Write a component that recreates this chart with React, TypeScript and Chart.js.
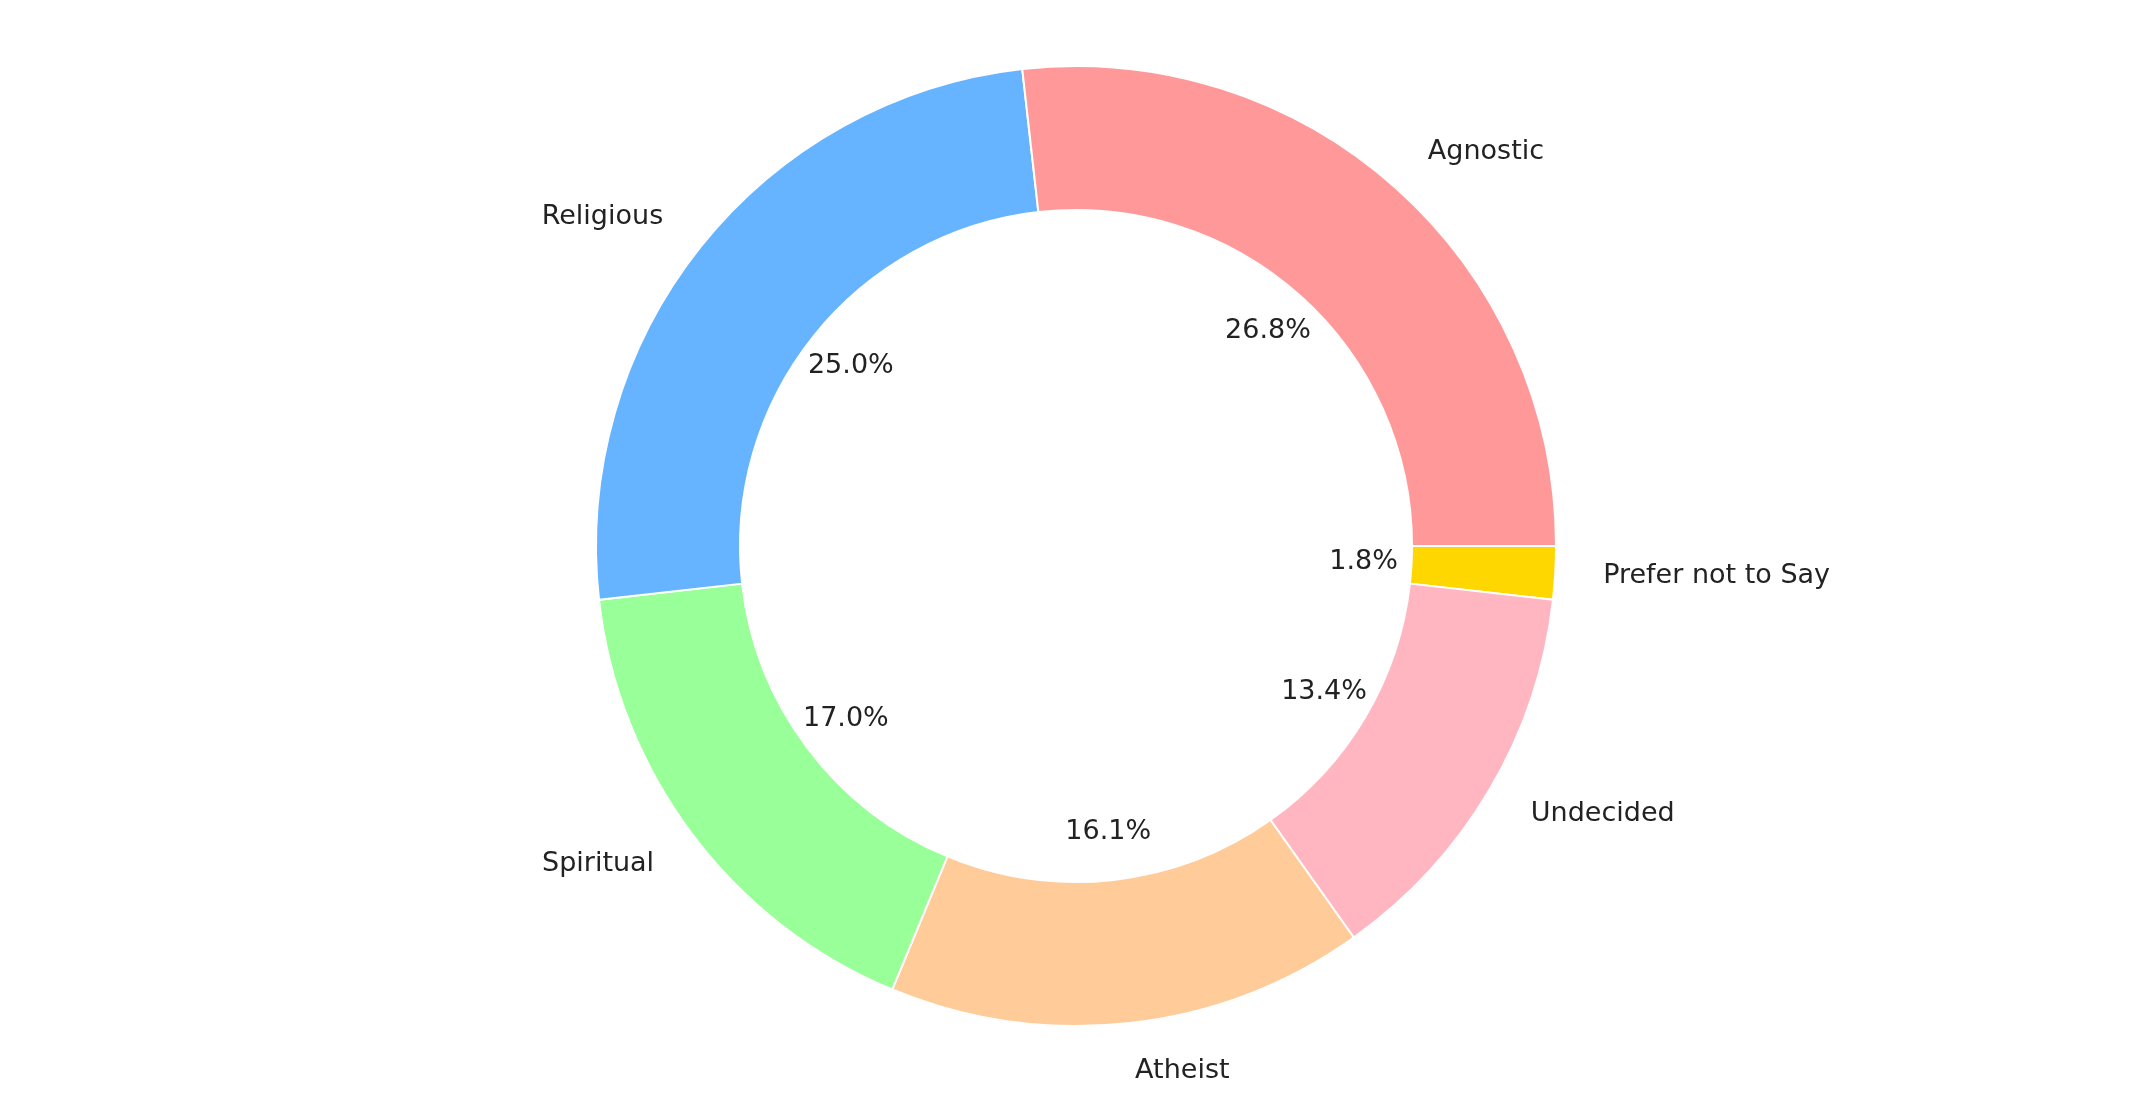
import React, { useEffect, useRef } from "react";
import { Chart, registerables } from "chart.js";

Chart.register(...registerables);

// matplotlib draws counter-clockwise from 3 o'clock; Chart.js draws clockwise,
// so the arrays are kept in display order and reversed when handed to the chart.
const categories = ["Agnostic", "Religious", "Spiritual", "Atheist", "Undecided", "Prefer not to Say"];
const counts = [30, 28, 19, 18, 15, 2];
const colors = ["#ff9999", "#66b3ff", "#99ff99", "#ffcc99", "#ffb6c1", "#ffd700"];

const labelPlugin = {
  id: "pieLabels",
  afterDatasetsDraw(chart: any) {
    const ctx = chart.ctx;
    const meta = chart.getDatasetMeta(0);
    const data = chart.data.datasets[0].data as number[];
    const total = data.reduce((a, b) => a + b, 0);
    ctx.save();
    ctx.font = "27px 'DejaVu Sans', sans-serif";
    ctx.fillStyle = "#222";
    meta.data.forEach((arc: any, i: number) => {
      const mid = (arc.startAngle + arc.endAngle) / 2;
      const r = arc.outerRadius;
      const cx = arc.x;
      const cy = arc.y;
      const cos = Math.cos(mid);
      const sin = Math.sin(mid);
      // category label outside
      ctx.textBaseline = "middle";
      ctx.textAlign = cos >= 0 ? "left" : "right";
      ctx.fillText(chart.data.labels[i], cx + cos * r * 1.1, cy + sin * r * 1.1);
      // percentage inside
      ctx.textAlign = "center";
      const pct = ((data[i] / total) * 100).toFixed(1) + "%";
      ctx.fillText(pct, cx + cos * r * 0.6, cy + sin * r * 0.6);
    });
    ctx.restore();
  },
};

const App: React.FC = () => {
  const ref = useRef<HTMLCanvasElement | null>(null);

  useEffect(() => {
    if (!ref.current) return;
    const chart = new Chart(ref.current, {
      type: "doughnut",
      data: {
        labels: [...categories].reverse(),
        datasets: [
          {
            data: [...counts].reverse(),
            backgroundColor: [...colors].reverse(),
            borderColor: "#ffffff",
            borderWidth: 2,
          },
        ],
      },
      options: {
        responsive: false,
        animation: false,
        rotation: 90,
        cutout: "70%",
        layout: { padding: { top: 65, bottom: 74, left: 21, right: 0 } },
        plugins: { legend: { display: false }, tooltip: { enabled: false } },
      },
      plugins: [labelPlugin],
    });
    return () => chart.destroy();
  }, []);

  return (
    <div style={{ position: "fixed", left: 0, top: 0, width: 2131, height: 1101, background: "#fff" }}>
      <canvas ref={ref} width={2131} height={1101} style={{ width: 2131, height: 1101 }} />
    </div>
  );
};

export default App;
